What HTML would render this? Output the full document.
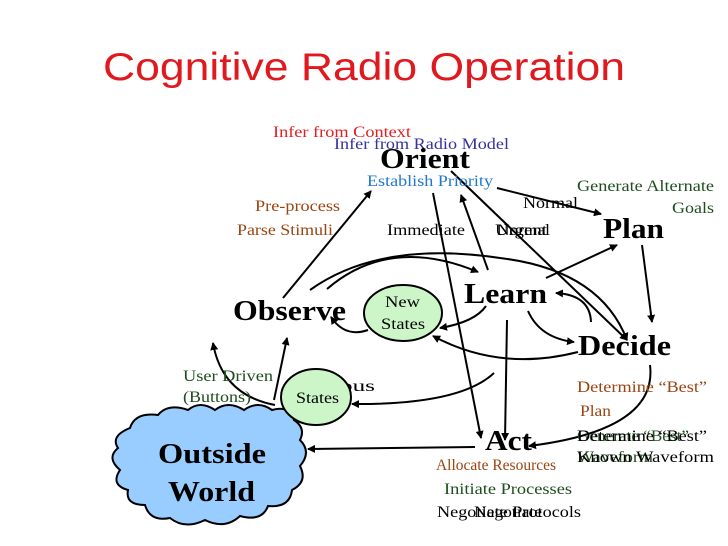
<!DOCTYPE html>
<html><head><meta charset="utf-8"><style>
html,body{margin:0;padding:0;background:#fff;}
svg{display:block;}
text{font-family:"Liberation Serif",serif;}
</style></head><body>
<svg width="728" height="546" viewBox="0 0 728 546" xmlns="http://www.w3.org/2000/svg">
<defs>
<marker id="a" markerWidth="8" markerHeight="8" refX="7" refY="4" orient="auto" markerUnits="userSpaceOnUse"><path d="M0,0 L8,4 L0,8 Z" fill="#000"/></marker>
</defs>
<text x="103" y="80" style="font-family:'Liberation Sans',sans-serif" font-size="39" fill="#e0191e" textLength="522" lengthAdjust="spacingAndGlyphs">Cognitive Radio Operation</text>

<path d="M130,428 Q135,412 158,415 Q168,403 188,410 Q200,400 215,410 Q228,400 244,410 Q258,400 272,410 Q290,405 294,420 Q306,428 300,440 Q312,452 300,466 Q308,482 292,490 Q290,508 268,506 Q262,522 240,516 Q225,530 205,520 Q185,530 170,518 Q150,522 145,505 Q125,505 128,490 Q110,485 120,470 Q106,458 118,448 Q110,436 130,428 Z" fill="#99ccff" stroke="#000" stroke-width="2"/>
<text x="158" y="463" font-size="28" font-weight="bold" textLength="108" lengthAdjust="spacingAndGlyphs">Outside</text>
<text x="168" y="501" font-size="28" font-weight="bold" textLength="87" lengthAdjust="spacingAndGlyphs">World</text>

<g stroke="#000" stroke-width="2" fill="none">
<line x1="283" y1="298" x2="371" y2="191" marker-end="url(#a)"/>
<path d="M310,290 Q380,240 500,258 Q600,270 627,340" marker-end="url(#a)"/>
<path d="M327,289 Q390,235 478,272" marker-end="url(#a)"/>
<line x1="433" y1="193" x2="481" y2="438" marker-end="url(#a)"/>
<line x1="488" y1="270" x2="461" y2="195" marker-end="url(#a)"/>
<line x1="451" y1="171" x2="627" y2="340" marker-end="url(#a)"/>
<line x1="497" y1="188" x2="601" y2="214" marker-end="url(#a)"/>
<line x1="546" y1="278" x2="617" y2="245" marker-end="url(#a)"/>
<line x1="642" y1="245" x2="652" y2="322" marker-end="url(#a)"/>
<path d="M591,322 Q590,295 556,293" marker-end="url(#a)"/>
<path d="M528,311 Q540,338 574,342" marker-end="url(#a)"/>
<path d="M486,306 Q475,322 440,328" marker-end="url(#a)"/>
<path d="M578,352 Q500,372 433,336" marker-end="url(#a)"/>
<path d="M368,330 Q345,338 331,317" marker-end="url(#a)"/>
<line x1="507" y1="320" x2="505" y2="440" marker-end="url(#a)"/>
<path d="M494,373 Q460,405 352,404" marker-end="url(#a)"/>
<line x1="475" y1="447" x2="308" y2="449" marker-end="url(#a)"/>
<path d="M650,365 Q658,430 529,446" marker-end="url(#a)"/>
<line x1="274" y1="400" x2="287" y2="338" marker-end="url(#a)"/>
<path d="M275,405 Q222,395 213,343" marker-end="url(#a)"/>
</g>

<text x="340" y="391" font-size="16" textLength="35" lengthAdjust="spacingAndGlyphs">ous</text>
<ellipse cx="403" cy="313" rx="39" ry="28" fill="#ccf5c8" stroke="#000" stroke-width="2"/>
<text x="385" y="307" font-size="16" textLength="35" lengthAdjust="spacingAndGlyphs">New</text>
<text x="381" y="329" font-size="16" textLength="44" lengthAdjust="spacingAndGlyphs">States</text>
<ellipse cx="316" cy="397" rx="35" ry="28" fill="#ccf5c8" stroke="#000" stroke-width="2"/>
<text x="296" y="403" font-size="16" textLength="43" lengthAdjust="spacingAndGlyphs">States</text>

<g font-size="16" lengthAdjust="spacingAndGlyphs">
<text x="273" y="137" fill="#e02020" textLength="138" lengthAdjust="spacingAndGlyphs">Infer from Context</text>
<text x="334" y="149" fill="#333399" textLength="175" lengthAdjust="spacingAndGlyphs">Infer from Radio Model</text>
<text x="367" y="186" fill="#2277cc" textLength="126" lengthAdjust="spacingAndGlyphs">Establish Priority</text>
<text x="577" y="191" fill="#1e4d1e" textLength="137" lengthAdjust="spacingAndGlyphs">Generate Alternate</text>
<text x="672" y="213" fill="#1e4d1e" textLength="42" lengthAdjust="spacingAndGlyphs">Goals</text>
<text x="523" y="208" textLength="55" lengthAdjust="spacingAndGlyphs">Normal</text>
<text x="255" y="211" fill="#994411" textLength="85" lengthAdjust="spacingAndGlyphs">Pre-process</text>
<text x="237" y="235" fill="#994411" textLength="96" lengthAdjust="spacingAndGlyphs">Parse Stimuli</text>
<text x="387" y="235" textLength="78" lengthAdjust="spacingAndGlyphs">Immediate</text>
<text x="495" y="235" textLength="52" lengthAdjust="spacingAndGlyphs">Urgent</text>
<text x="497" y="235" textLength="53" lengthAdjust="spacingAndGlyphs">Normal</text>
<text x="183" y="381" fill="#1e4d1e" textLength="90" lengthAdjust="spacingAndGlyphs">User Driven</text>
<text x="183" y="402" fill="#1e4d1e" textLength="68" lengthAdjust="spacingAndGlyphs">(Buttons)</text>
<text x="577" y="392" fill="#994411" textLength="130" lengthAdjust="spacingAndGlyphs">Determine “Best”</text>
<text x="580" y="416" fill="#994411" textLength="31" lengthAdjust="spacingAndGlyphs">Plan</text>
<text x="577" y="441" fill="#1e4d1e" textLength="112" lengthAdjust="spacingAndGlyphs">Generate “Best”</text>
<text x="577" y="441" textLength="130" lengthAdjust="spacingAndGlyphs">Determine “Best”</text>
<text x="577" y="462" fill="#1e4d1e" textLength="76" lengthAdjust="spacingAndGlyphs">Waveform</text>
<text x="577" y="462" textLength="137" lengthAdjust="spacingAndGlyphs">Known Waveform</text>
<text x="436" y="470" fill="#994411" textLength="120" lengthAdjust="spacingAndGlyphs">Allocate Resources</text>
<text x="444" y="494" fill="#1e4d1e" textLength="128" lengthAdjust="spacingAndGlyphs">Initiate Processes</text>
<text x="437" y="517" textLength="144" lengthAdjust="spacingAndGlyphs">Negotiate Protocols</text>
<text x="474" y="517" textLength="68" lengthAdjust="spacingAndGlyphs">Negotiate</text>
</g>
<g font-size="29" font-weight="bold">
<text x="380" y="168" textLength="90" lengthAdjust="spacingAndGlyphs">Orient</text>
<text x="603" y="238" textLength="61" lengthAdjust="spacingAndGlyphs">Plan</text>
<text x="233" y="320" textLength="113" lengthAdjust="spacingAndGlyphs">Observe</text>
<text x="464" y="303" textLength="83" lengthAdjust="spacingAndGlyphs">Learn</text>
<text x="578" y="355" textLength="93" lengthAdjust="spacingAndGlyphs">Decide</text>
<text x="485" y="450" textLength="47" lengthAdjust="spacingAndGlyphs">Act</text>
</g>
</svg>
</body></html>
